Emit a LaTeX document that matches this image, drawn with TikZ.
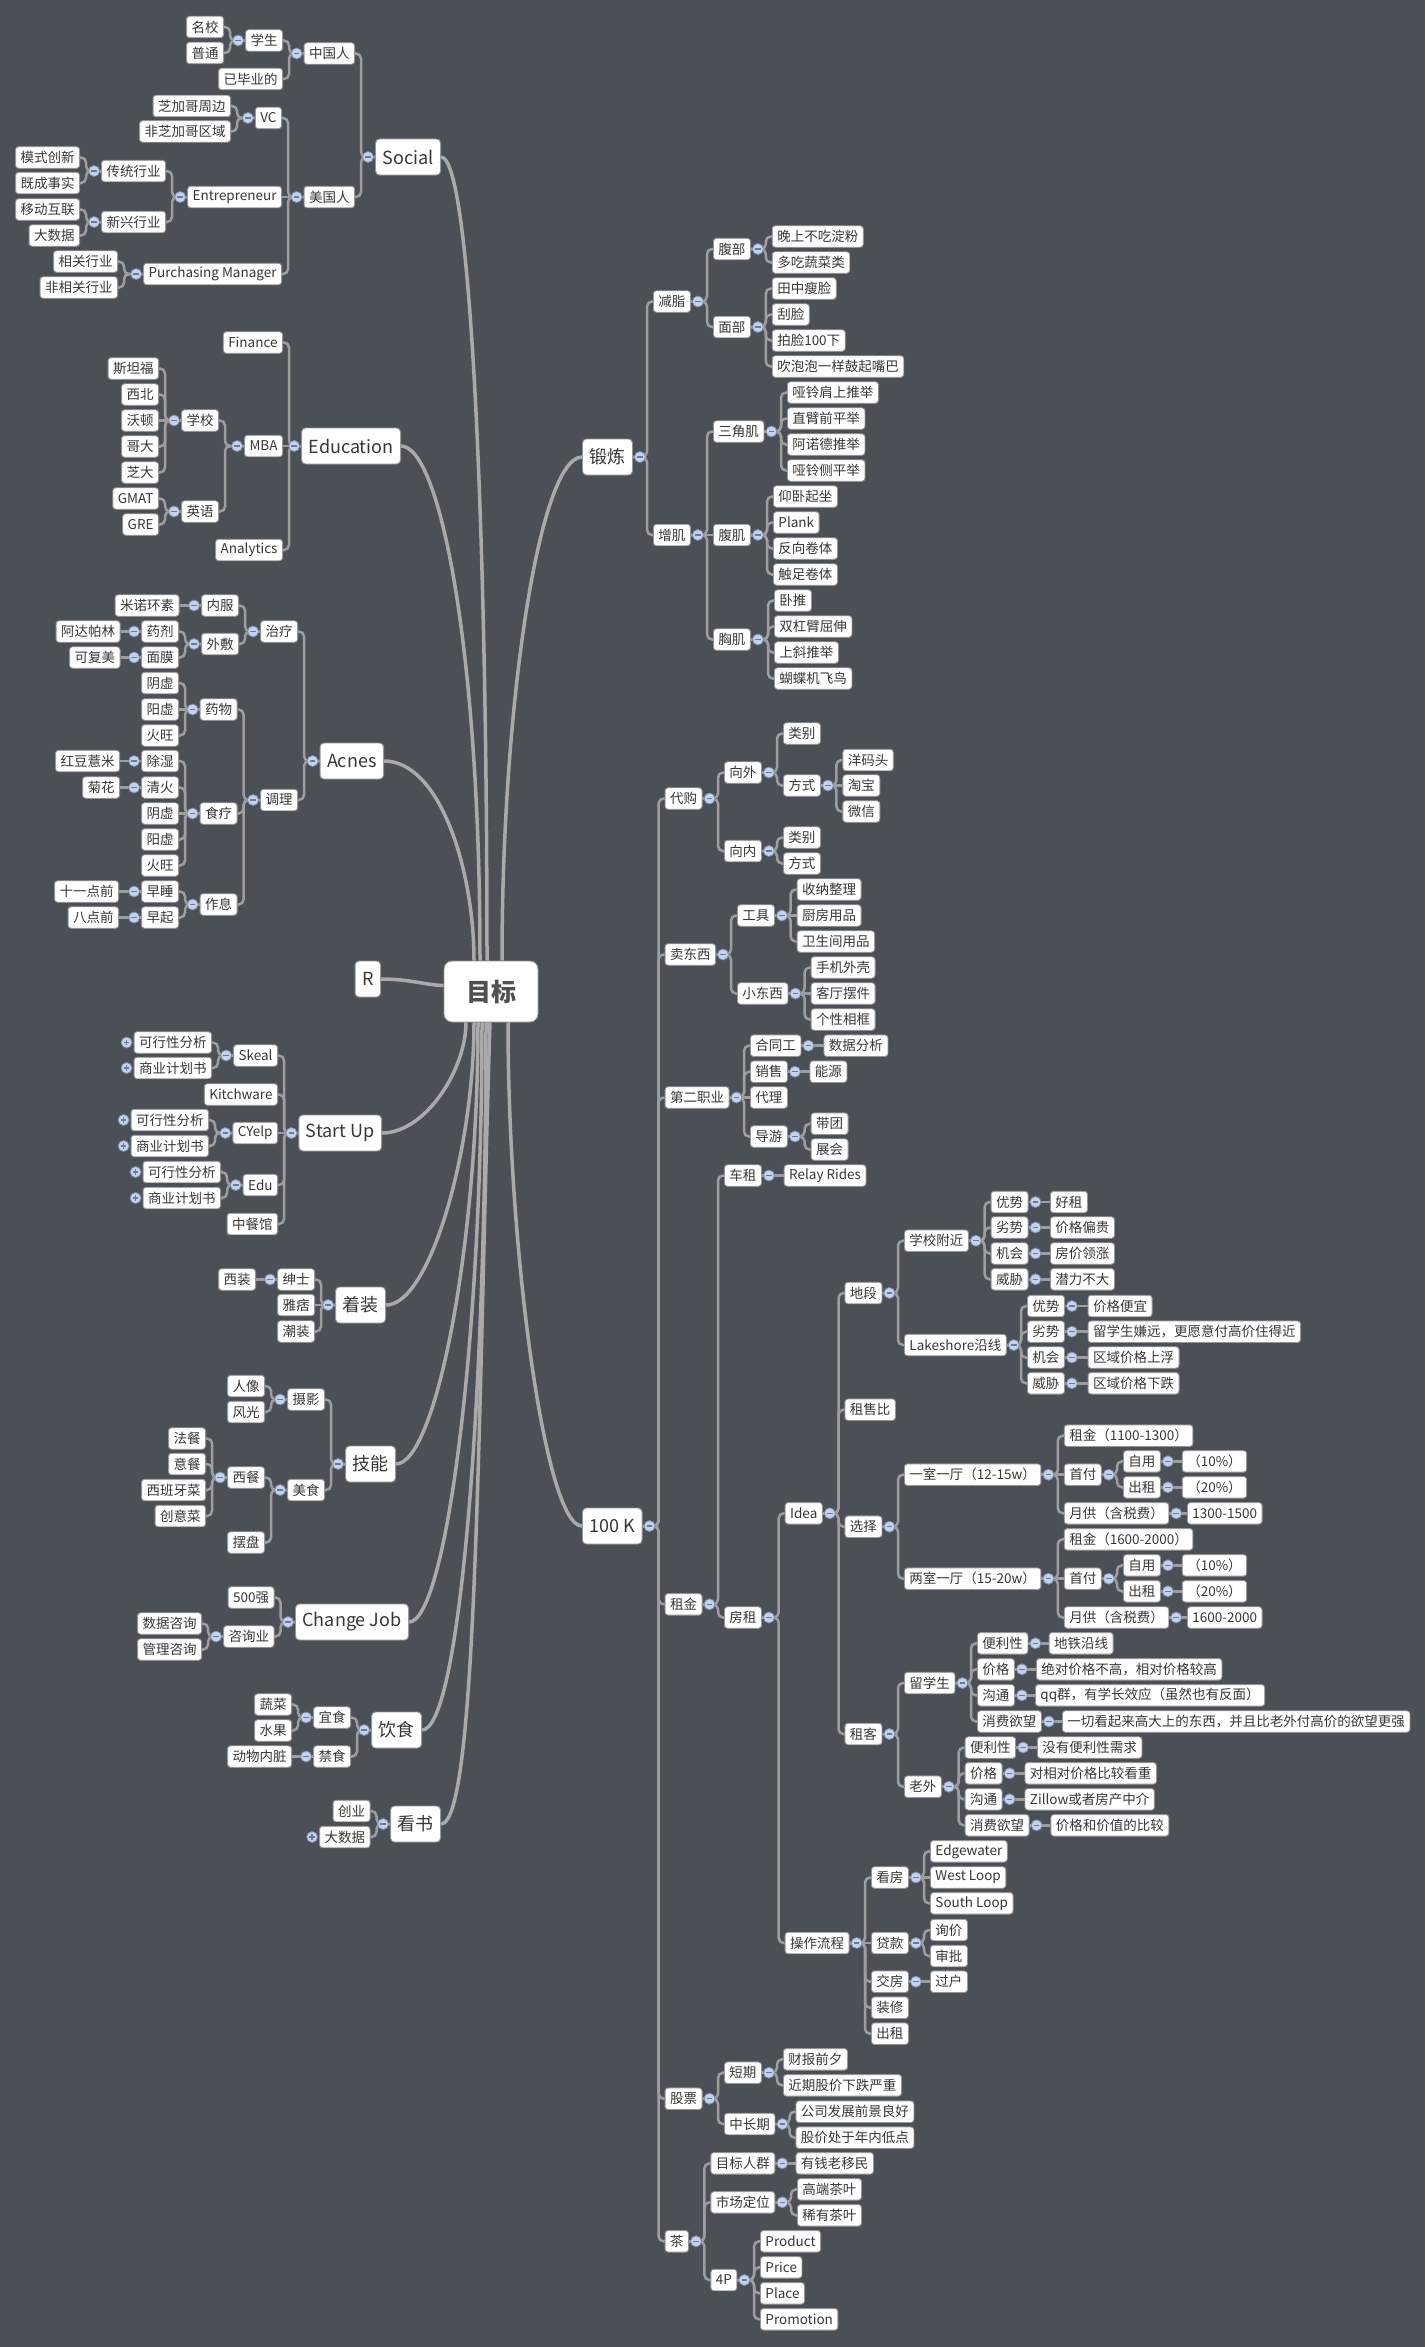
\documentclass[tikz,border=0pt]{standalone}
\usepackage{fontspec}
\setmainfont{Noto Sans CJK SC}
\usetikzlibrary{calc}
\definecolor{bgc}{RGB}{75,80,87}
\definecolor{boxc}{RGB}{150,150,150}
\definecolor{txtc}{RGB}{55,55,55}
\definecolor{rootc}{RGB}{80,80,80}
\definecolor{linkc}{RGB}{158,158,158}
\definecolor{mlinkc}{RGB}{170,170,170}
\definecolor{junf}{RGB}{196,210,238}
\definecolor{jund}{RGB}{125,140,170}
\definecolor{junm}{RGB}{105,120,155}
\pgfdeclarelayer{back}\pgfdeclarelayer{lines}\pgfsetlayers{back,lines,main}
\tikzset{
 leaf/.style={draw=boxc, fill=white, rounded corners=3pt, line width=0.9pt, font=\fontsize{13.5}{15}\selectfont, text=txtc, minimum height=21.5pt, inner xsep=5pt, inner ysep=0pt},
 lvone/.style={leaf, rounded corners=4pt, font=\fontsize{18}{20}\selectfont, minimum height=36pt, inner xsep=7pt},
 rootn/.style={draw=boxc, fill=white, rounded corners=8pt, line width=0.9pt, font=\fontsize{25}{27}\selectfont\bfseries, text=rootc, minimum width=94pt, minimum height=61pt},
 lft/.style={anchor=east}, rgt/.style={anchor=west},
 link/.style={draw=linkc, line width=2.5pt, rounded corners=5pt},
 mlink/.style={draw=mlinkc, line width=3.5pt},
 jun/.style={circle, draw=jund, fill=junf, line width=0.8pt, minimum size=11pt, inner sep=0pt, path picture={\draw[junm, line width=1.3pt] ([xshift=-2.8pt]path picture bounding box.center) -- ([xshift=2.8pt]path picture bounding box.center);}},
 jplus/.style={circle, draw=jund, fill=junf, line width=0.8pt, minimum size=11pt, inner sep=0pt, path picture={\draw[junm, line width=1.3pt] ([xshift=-2.8pt]path picture bounding box.center) -- ([xshift=2.8pt]path picture bounding box.center) ([yshift=-2.8pt]path picture bounding box.center) -- ([yshift=2.8pt]path picture bounding box.center);}}
}
\newcommand\linkL[2]{\draw[link] (#1.west) -| ([xshift=6pt]#2.east) -- (#2.east);}
\newcommand\linkLs[2]{\draw[link] (#1.west) -- (#2.east);}
\newcommand\linkR[2]{\draw[link] (#1.east) -| ([xshift=-6pt]#2.west) -- (#2.west);}
\newcommand\linkRs[2]{\draw[link] (#1.east) -- (#2.west);}
\begin{document}
\begin{tikzpicture}[x=1pt,y=-1pt]
\begin{pgfonlayer}{back}
\fill[bgc] (0,0) rectangle (1425,2347);
\end{pgfonlayer}
\useasboundingbox (0,0) rectangle (1425,2347);

\node[rootn] (root) at (491,991.5) {目标};

% ---------- Social
\node[lvone,lft] (social) at (441,157) {Social};
\node[leaf,lft] (zgr) at (355,53.5) {中国人};
\node[leaf,lft] (mgr) at (355,197) {美国人};
\node[leaf,lft] (xs) at (283,40.5) {学生};
\node[leaf,lft] (ybyd) at (283,79) {已毕业的};
\node[leaf,lft] (mx) at (224,27) {名校};
\node[leaf,lft] (pt) at (224,53) {普通};
\node[leaf,lft] (vc) at (282,118) {VC};
\node[leaf,lft] (ent) at (282,197) {Entrepreneur};
\node[leaf,lft] (pm) at (282,274) {Purchasing Manager};
\node[leaf,lft] (zjg) at (231,106) {芝加哥周边};
\node[leaf,lft] (fzjg) at (231,131.5) {非芝加哥区域};
\node[leaf,lft] (ctxy) at (166,171) {传统行业};
\node[leaf,lft] (xxxy) at (166,222) {新兴行业};
\node[leaf,lft] (mscx) at (80,157.5) {模式创新};
\node[leaf,lft] (jcss) at (80,183) {既成事实};
\node[leaf,lft] (ydhl) at (80,209.5) {移动互联};
\node[leaf,lft] (dsj) at (80,235.5) {大数据};
\node[leaf,lft] (xgxy) at (118,261.5) {相关行业};
\node[leaf,lft] (fxgxy) at (118,287.5) {非相关行业};

% ---------- Education
\node[lvone,lft] (edu) at (401,446) {Education};
\node[leaf,lft] (fin) at (283,342.5) {Finance};
\node[leaf,lft] (mba) at (283,446) {MBA};
\node[leaf,lft] (ana) at (283,550) {Analytics};
\node[leaf,lft] (xx) at (219,420.5) {学校};
\node[leaf,lft] (yy) at (219,511.5) {英语};
\node[leaf,lft] (stf) at (159,368.5) {斯坦福};
\node[leaf,lft] (xb) at (159,394.5) {西北};
\node[leaf,lft] (wd) at (159,420.5) {沃顿};
\node[leaf,lft] (gd) at (159,446.5) {哥大};
\node[leaf,lft] (zd) at (159,472.5) {芝大};
\node[leaf,lft] (gmat) at (159,498.5) {GMAT};
\node[leaf,lft] (gre) at (159,524.5) {GRE};

% ---------- Acnes
\node[lvone,lft] (acnes) at (384,761) {Acnes};
\node[leaf,lft] (zl) at (298,631.5) {治疗};
\node[leaf,lft] (tl) at (298,800) {调理};
\node[leaf,lft] (nf) at (239,605.5) {内服};
\node[leaf,lft] (wf) at (239,644) {外敷};
\node[leaf,lft] (mnhs) at (179.5,605.5) {米诺环素};
\node[leaf,lft] (yj) at (179,631.5) {药剂};
\node[leaf,lft] (mm) at (179,657.5) {面膜};
\node[leaf,lft] (adpl) at (120.5,631.5) {阿达帕林};
\node[leaf,lft] (kfm) at (120.5,657.5) {可复美};
\node[leaf,lft] (yw) at (237.5,709.5) {药物};
\node[leaf,lft] (yx1) at (179,683) {阴虚};
\node[leaf,lft] (yangx1) at (179,709.5) {阳虚};
\node[leaf,lft] (hw1) at (179,735.5) {火旺};
\node[leaf,lft] (sl) at (237.5,813.5) {食疗};
\node[leaf,lft] (cs) at (179,761) {除湿};
\node[leaf,lft] (qh) at (179,787.5) {清火};
\node[leaf,lft] (yx2) at (179,813.5) {阴虚};
\node[leaf,lft] (yangx2) at (179,839.5) {阳虚};
\node[leaf,lft] (hw2) at (179,865.5) {火旺};
\node[leaf,lft] (hdym) at (120,761) {红豆薏米};
\node[leaf,lft] (jh) at (120,787.5) {菊花};
\node[leaf,lft] (zx) at (237.5,904.5) {作息};
\node[leaf,lft] (zs) at (179,891.5) {早睡};
\node[leaf,lft] (zq) at (179,917.5) {早起};
\node[leaf,lft] (syd) at (119,891.5) {十一点前};
\node[leaf,lft] (bdq) at (119,917.5) {八点前};

% ---------- R
\node[lvone,lft] (rn) at (381,979) {R};

% ---------- Start Up
\node[lvone,lft] (startup) at (382,1133) {Start Up};
\node[leaf,lft] (skeal) at (278,1055.5) {Skeal};
\node[leaf,lft] (kit) at (278,1094.5) {Kitchware};
\node[leaf,lft] (cyelp) at (278,1133) {CYelp};
\node[leaf,lft] (edux) at (278,1185) {Edu};
\node[leaf,lft] (zcg) at (278,1224) {中餐馆};
\node[leaf,lft] (kx1) at (212,1042.5) {可行性分析};
\node[leaf,lft] (sy1) at (212,1068) {商业计划书};
\node[leaf,lft] (kx2) at (209,1120) {可行性分析};
\node[leaf,lft] (sy2) at (209,1146) {商业计划书};
\node[leaf,lft] (kx3) at (221,1172) {可行性分析};
\node[leaf,lft] (sy3) at (221,1198) {商业计划书};

% ---------- 着装
\node[lvone,lft] (zhuang) at (386,1305) {着装};
\node[leaf,lft] (ss) at (315,1279.5) {绅士};
\node[leaf,lft] (yp) at (315,1305) {雅痞};
\node[leaf,lft] (cz) at (315,1331.5) {潮装};
\node[leaf,lft] (xz) at (256,1279.5) {西装};

% ---------- 技能
\node[lvone,lft] (jineng) at (396,1464) {技能};
\node[leaf,lft] (sy) at (325,1399.5) {摄影};
\node[leaf,lft] (ms) at (325,1490) {美食};
\node[leaf,lft] (rx) at (265,1386) {人像};
\node[leaf,lft] (fg) at (265,1412) {风光};
\node[leaf,lft] (xc) at (265,1477.5) {西餐};
\node[leaf,lft] (bp) at (265,1542.5) {摆盘};
\node[leaf,lft] (fc) at (206,1438.5) {法餐};
\node[leaf,lft] (yc) at (206,1464) {意餐};
\node[leaf,lft] (xbyc) at (206,1490) {西班牙菜};
\node[leaf,lft] (cyc) at (206,1516) {创意菜};

% ---------- Change Job
\node[lvone,lft] (cjob) at (409,1622) {Change Job};
\node[leaf,lft] (wbq) at (274.5,1597.5) {500强};
\node[leaf,lft] (zxy) at (274.5,1636.5) {咨询业};
\node[leaf,lft] (sjzx) at (202,1623.5) {数据咨询};
\node[leaf,lft] (glzx) at (202,1649.5) {管理咨询};

% ---------- 饮食
\node[lvone,lft] (yinshi) at (422,1730) {饮食};
\node[leaf,lft] (ys) at (351,1717.5) {宜食};
\node[leaf,lft] (js) at (351,1756.5) {禁食};
\node[leaf,lft] (sc) at (292,1704.5) {蔬菜};
\node[leaf,lft] (sg) at (292,1730.5) {水果};
\node[leaf,lft] (dwnz) at (292,1756.5) {动物内脏};

% ---------- 看书
\node[lvone,lft] (kanshu) at (441,1824) {看书};
\node[leaf,lft] (cy) at (370.5,1811) {创业};
\node[leaf,lft] (dsj2) at (370.5,1837) {大数据};

% ---------- 锻炼
\node[lvone,rgt] (dl) at (582,457) {锻炼};
\node[leaf,rgt] (jz) at (653,301.5) {减脂};
\node[leaf,rgt] (zj) at (653,535) {增肌};
\node[leaf,rgt] (fb) at (713,249) {腹部};
\node[leaf,rgt] (mb) at (713,327) {面部};
\node[leaf,rgt] (wsbcdf) at (771.8,236.5) {晚上不吃淀粉};
\node[leaf,rgt] (dcscl) at (771.8,262.5) {多吃蔬菜类};
\node[leaf,rgt] (tzsl) at (771.8,288.5) {田中瘦脸};
\node[leaf,rgt] (gl) at (771.8,314.5) {刮脸};
\node[leaf,rgt] (pl) at (771.8,340.5) {拍脸100下};
\node[leaf,rgt] (cpp) at (771.8,366.5) {吹泡泡一样鼓起嘴巴};
\node[leaf,rgt] (sjj) at (713,431.5) {三角肌};
\node[leaf,rgt] (fj) at (713,535) {腹肌};
\node[leaf,rgt] (xj) at (713,639.5) {胸肌};
\node[leaf,rgt] (ylsstj) at (787,392.5) {哑铃肩上推举};
\node[leaf,rgt] (zbqpj) at (787,418.5) {直臂前平举};
\node[leaf,rgt] (andtj) at (787,444.5) {阿诺德推举};
\node[leaf,rgt] (ylcpj) at (787,470.5) {哑铃侧平举};
\node[leaf,rgt] (ywqz) at (773,496.5) {仰卧起坐};
\node[leaf,rgt] (plank) at (773,522.5) {Plank};
\node[leaf,rgt] (fxjt) at (773,548.5) {反向卷体};
\node[leaf,rgt] (czjt) at (773,574.5) {触足卷体};
\node[leaf,rgt] (wt) at (774,600.5) {卧推};
\node[leaf,rgt] (dgbqs) at (774,626.5) {双杠臂屈伸};
\node[leaf,rgt] (xxtj) at (774,652.5) {上斜推举};
\node[leaf,rgt] (hdjfn) at (774,678.5) {蝴蝶机飞鸟};

% ---------- 100 K
\node[lvone,rgt] (hk) at (582,1526) {100 K};
\node[leaf,rgt] (dg) at (664.6,798.5) {代购};
\node[leaf,rgt] (mdx) at (664.6,954.5) {卖东西};
\node[leaf,rgt] (dezy) at (664.6,1097.5) {第二职业};
\node[leaf,rgt] (zjin) at (664.6,1604.3) {租金};
\node[leaf,rgt] (gp) at (664.6,2098.7) {股票};
\node[leaf,rgt] (cha) at (664.6,2241.3) {茶};
\node[leaf,rgt] (xw) at (724,772.5) {向外};
\node[leaf,rgt] (xn) at (724,851) {向内};
\node[leaf,rgt] (lb1) at (783,733.5) {类别};
\node[leaf,rgt] (fs1) at (783,785.5) {方式};
\node[leaf,rgt] (ymt) at (842.4,760) {洋码头};
\node[leaf,rgt] (tb) at (842.4,785.5) {淘宝};
\node[leaf,rgt] (wx) at (842.4,811.5) {微信};
\node[leaf,rgt] (lb2) at (783,837.5) {类别};
\node[leaf,rgt] (fs2) at (783,863.5) {方式};
\node[leaf,rgt] (gj) at (737,915.5) {工具};
\node[leaf,rgt] (xdx) at (737,993.5) {小东西};
\node[leaf,rgt] (snzl) at (796.6,889.5) {收纳整理};
\node[leaf,rgt] (cfyp) at (796.6,915.5) {厨房用品};
\node[leaf,rgt] (wsjyp) at (796.6,941.5) {卫生间用品};
\node[leaf,rgt] (sjwk) at (810.6,967.5) {手机外壳};
\node[leaf,rgt] (ktbj) at (810.6,993.5) {客厅摆件};
\node[leaf,rgt] (gxxk) at (810.6,1019.5) {个性相框};
\node[leaf,rgt] (htg) at (750,1045.7) {合同工};
\node[leaf,rgt] (xsh) at (750,1071.7) {销售};
\node[leaf,rgt] (dl2) at (750,1097.5) {代理};
\node[leaf,rgt] (dy) at (750,1136.5) {导游};
\node[leaf,rgt] (sjfx) at (823.5,1045.7) {数据分析};
\node[leaf,rgt] (ny) at (809.5,1071.7) {能源};
\node[leaf,rgt] (dt) at (810.6,1123.7) {带团};
\node[leaf,rgt] (zh) at (810.6,1149.5) {展会};
\node[leaf,rgt] (cz2) at (724,1175.5) {车租};
\node[leaf,rgt] (relay) at (783.7,1175.5) {Relay Rides};
\node[leaf,rgt] (fz) at (724,1617.5) {房租};
\node[leaf,rgt] (idea) at (784.7,1513.3) {Idea};
\node[leaf,rgt] (czlc) at (784.7,1943) {操作流程};
\node[leaf,rgt] (dd) at (844.5,1293) {地段};
\node[leaf,rgt] (zsb) at (844.5,1409.7) {租售比};
\node[leaf,rgt] (xze) at (844.5,1526.7) {选择};
\node[leaf,rgt] (zk) at (844.5,1734) {租客};
\node[leaf,rgt] (xxfj) at (904,1240.7) {学校附近};
\node[leaf,rgt] (lks) at (904,1345) {Lakeshore沿线};
\node[leaf,rgt] (ys1) at (990.6,1202) {优势};
\node[leaf,rgt] (ls1) at (990.6,1227.5) {劣势};
\node[leaf,rgt] (jh1) at (990.6,1253.5) {机会};
\node[leaf,rgt] (wx1) at (990.6,1279.3) {威胁};
\node[leaf,rgt] (hz) at (1050,1202) {好租};
\node[leaf,rgt] (jgpg) at (1050,1227.5) {价格偏贵};
\node[leaf,rgt] (fjlz) at (1050,1253.5) {房价领涨};
\node[leaf,rgt] (qlbd) at (1050,1279.3) {潜力不大};
\node[leaf,rgt] (ys2) at (1027,1306) {优势};
\node[leaf,rgt] (ls2) at (1027,1331.7) {劣势};
\node[leaf,rgt] (jh2) at (1027,1357.5) {机会};
\node[leaf,rgt] (wx2) at (1027,1383.3) {威胁};
\node[leaf,rgt] (jgpy) at (1087.6,1306) {价格便宜};
\node[leaf,rgt] (lxsxy) at (1087.6,1331.7) {留学生嫌远，更愿意付高价住得近};
\node[leaf,rgt] (qyjgsf) at (1087.6,1357.5) {区域价格上浮};
\node[leaf,rgt] (qyjgxd) at (1087.6,1383.3) {区域价格下跌};
\node[leaf,rgt] (ysyt) at (904,1474.7) {一室一厅（12-15w）};
\node[leaf,rgt] (zj1) at (1063.8,1435.7) {租金（1100-1300）};
\node[leaf,rgt] (sf1) at (1063.8,1474.7) {首付};
\node[leaf,rgt] (yg1) at (1063.8,1513.3) {月供（含税费）};
\node[leaf,rgt] (zy1) at (1123,1461.3) {自用};
\node[leaf,rgt] (czu1) at (1123,1487.3) {出租};
\node[leaf,rgt] (pa1) at (1181.8,1461.3) {（10\%）};
\node[leaf,rgt] (pb1) at (1181.8,1487.3) {（20\%）};
\node[leaf,rgt] (v1) at (1187,1513.3) {1300-1500};
\node[leaf,rgt] (lsyt) at (904,1578.7) {两室一厅（15-20w）};
\node[leaf,rgt] (zj2) at (1063.8,1539.3) {租金（1600-2000）};
\node[leaf,rgt] (sf2) at (1063.8,1578.7) {首付};
\node[leaf,rgt] (yg2) at (1063.8,1617.5) {月供（含税费）};
\node[leaf,rgt] (zy2) at (1123,1565.3) {自用};
\node[leaf,rgt] (czu2) at (1123,1591.3) {出租};
\node[leaf,rgt] (pa2) at (1181.8,1565.3) {（10\%）};
\node[leaf,rgt] (pb2) at (1181.8,1591.3) {（20\%）};
\node[leaf,rgt] (v2) at (1187,1617.5) {1600-2000};
\node[leaf,rgt] (lxs) at (904,1683) {留学生};
\node[leaf,rgt] (lw) at (904,1786.7) {老外};
\node[leaf,rgt] (blx1) at (977,1643.3) {便利性};
\node[leaf,rgt] (jg1) at (977,1669.3) {价格};
\node[leaf,rgt] (gt1) at (977,1695.3) {沟通};
\node[leaf,rgt] (xfyw1) at (977,1721.5) {消费欲望};
\node[leaf,rgt] (dtyx) at (1048.7,1643.3) {地铁沿线};
\node[leaf,rgt] (jdjg) at (1036,1669.3) {绝对价格不高，相对价格较高};
\node[leaf,rgt] (qqq) at (1035,1695.3) {qq群，有学长效应（虽然也有反面）};
\node[leaf,rgt] (yqkq) at (1062,1721.5) {一切看起来高大上的东西，并且比老外付高价的欲望更强};
\node[leaf,rgt] (blx2) at (964.7,1747.5) {便利性};
\node[leaf,rgt] (jg2) at (964.7,1773.3) {价格};
\node[leaf,rgt] (gt2) at (964.7,1799.3) {沟通};
\node[leaf,rgt] (xfyw2) at (964.7,1825.3) {消费欲望};
\node[leaf,rgt] (mybl) at (1037,1747.5) {没有便利性需求};
\node[leaf,rgt] (dxdjg) at (1024.5,1773.3) {对相对价格比较看重};
\node[leaf,rgt] (zillow) at (1024.5,1799.3) {Zillow或者房产中介};
\node[leaf,rgt] (jghjz) at (1050.4,1825.3) {价格和价值的比较};
\node[leaf,rgt] (kf) at (871,1877.5) {看房};
\node[leaf,rgt] (dk) at (871,1943) {贷款};
\node[leaf,rgt] (jf) at (871,1981.7) {交房};
\node[leaf,rgt] (zxiu) at (871,2007.7) {装修};
\node[leaf,rgt] (czu3) at (871,2033.7) {出租};
\node[leaf,rgt] (edgew) at (930,1851.3) {Edgewater};
\node[leaf,rgt] (wloop) at (930,1877.5) {West Loop};
\node[leaf,rgt] (sloop) at (930,1903.3) {South Loop};
\node[leaf,rgt] (xjia) at (930,1930) {询价};
\node[leaf,rgt] (sp) at (930,1956) {审批};
\node[leaf,rgt] (gh) at (930,1981.7) {过户};
\node[leaf,rgt] (dq) at (724,2072.7) {短期};
\node[leaf,rgt] (zcq) at (724,2124) {中长期};
\node[leaf,rgt] (cbqx) at (783,2059.3) {财报前夕};
\node[leaf,rgt] (jqgj) at (783,2085.3) {近期股价下跌严重};
\node[leaf,rgt] (gsfz) at (795.5,2111.7) {公司发展前景良好};
\node[leaf,rgt] (gjcy) at (795.5,2137.7) {股价处于年内低点};
\node[leaf,rgt] (mbrq) at (710.4,2163.3) {目标人群};
\node[leaf,rgt] (scdw) at (710.4,2202.3) {市场定位};
\node[leaf,rgt] (fourp) at (710.4,2280) {4P};
\node[leaf,rgt] (yqlym) at (795.5,2163.3) {有钱老移民};
\node[leaf,rgt] (gdcy) at (797,2189.3) {高端茶叶};
\node[leaf,rgt] (xycy) at (797,2215.3) {稀有茶叶};
\node[leaf,rgt] (prod) at (760,2241.3) {Product};
\node[leaf,rgt] (price) at (760,2267.3) {Price};
\node[leaf,rgt] (place) at (760,2293.3) {Place};
\node[leaf,rgt] (promo) at (760,2319.3) {Promotion};

\begin{pgfonlayer}{lines}
% main branches
\draw[mlink] (social.east) .. controls (472,157) and (487,550) .. ([xshift=-4pt]root.north);
\draw[mlink] (edu.east) .. controls (440,446) and (480,650) .. ([xshift=-11pt]root.north);
\draw[mlink] (acnes.east) .. controls (440,761) and (474,870) .. ([xshift=-17pt]root.north);
\draw[mlink] (dl.west) .. controls (540,457) and (502,700) .. ([xshift=11pt]root.north);
\draw[mlink] (rn.east) .. controls (410,979) and (425,985) .. ([yshift=6pt]root.west);
\draw[mlink] (startup.east) .. controls (425,1133) and (466,1070) .. ([xshift=-25pt]root.south);
\draw[mlink] (zhuang.east) .. controls (430,1305) and (474,1150) .. ([xshift=-17pt]root.south);
\draw[mlink] (jineng.east) .. controls (435,1464) and (478,1250) .. ([xshift=-13pt]root.south);
\draw[mlink] (cjob.east) .. controls (445,1622) and (482,1350) .. ([xshift=-9pt]root.south);
\draw[mlink] (yinshi.east) .. controls (460,1730) and (486,1400) .. ([xshift=-5pt]root.south);
\draw[mlink] (kanshu.east) .. controls (478,1824) and (478,1400) .. ([xshift=-1pt]root.south);
\draw[mlink] (hk.west) .. controls (545,1526) and (508,1250) .. ([xshift=17pt]root.south);
% left links
\foreach \a/\b in {social/zgr, social/mgr, zgr/xs, zgr/ybyd, xs/mx, xs/pt, mgr/vc, mgr/pm, vc/zjg, vc/fzjg, ent/ctxy, ent/xxxy, ctxy/mscx, ctxy/jcss, xxxy/ydhl, xxxy/dsj, pm/xgxy, pm/fxgxy,
 edu/fin, edu/ana, mba/xx, mba/yy, xx/stf, xx/xb, xx/gd, xx/zd, yy/gmat, yy/gre,
 acnes/zl, acnes/tl, zl/nf, zl/wf, wf/yj, wf/mm, tl/yw, tl/sl, tl/zx, yw/yx1, yw/hw1, sl/cs, sl/qh, sl/yangx2, sl/hw2, zx/zs, zx/zq,
 startup/skeal, startup/kit, startup/edux, startup/zcg, skeal/kx1, skeal/sy1, cyelp/kx2, cyelp/sy2, edux/kx3, edux/sy3,
 zhuang/ss, zhuang/cz, jineng/sy, jineng/ms, sy/rx, sy/fg, ms/xc, ms/bp, xc/fc, xc/yc, xc/xbyc, xc/cyc,
 cjob/wbq, cjob/zxy, zxy/sjzx, zxy/glzx, yinshi/ys, yinshi/js, ys/sc, ys/sg, kanshu/cy, kanshu/dsj2}
 {\linkL{\a}{\b}}
\foreach \a/\b in {mgr/ent, edu/mba, xx/wd, nf/mnhs, yj/adpl, mm/kfm, yw/yangx1, sl/yx2, cs/hdym, qh/jh, zs/syd, zq/bdq, startup/cyelp, zhuang/yp, ss/xz, js/dwnz}
 {\linkLs{\a}{\b}}
% right links
\foreach \a/\b in {dl/jz, dl/zj, jz/fb, jz/mb, fb/wsbcdf, fb/dcscl, mb/tzsl, mb/gl, mb/pl, mb/cpp, zj/sjj, zj/xj, sjj/ylsstj, sjj/zbqpj, sjj/andtj, sjj/ylcpj, fj/ywqz, fj/plank, fj/fxjt, fj/czjt, xj/wt, xj/dgbqs, xj/xxtj, xj/hdjfn,
 hk/dg, hk/mdx, hk/dezy, hk/zjin, hk/gp, hk/cha,
 dg/xw, dg/xn, xw/lb1, xw/fs1, fs1/ymt, fs1/wx, xn/lb2, xn/fs2,
 mdx/gj, mdx/xdx, gj/snzl, gj/wsjyp, xdx/sjwk, xdx/gxxk,
 dezy/htg, dezy/xsh, dezy/dy, dy/dt, dy/zh,
 zjin/cz2, zjin/fz, fz/idea, fz/czlc,
 idea/dd, idea/zsb, idea/xze, idea/zk,
 dd/xxfj, dd/lks, xxfj/ys1, xxfj/ls1, xxfj/jh1, xxfj/wx1, lks/ys2, lks/ls2, lks/jh2, lks/wx2,
 xze/ysyt, xze/lsyt, ysyt/zj1, ysyt/yg1, sf1/zy1, sf1/czu1, lsyt/zj2, lsyt/yg2, sf2/zy2, sf2/czu2,
 zk/lxs, zk/lw, lxs/blx1, lxs/jg1, lxs/gt1, lxs/xfyw1, lw/blx2, lw/jg2, lw/gt2, lw/xfyw2,
 czlc/kf, czlc/jf, czlc/zxiu, czlc/czu3, kf/edgew, kf/sloop, dk/xjia, dk/sp,
 gp/dq, gp/zcq, dq/cbqx, dq/jqgj, zcq/gsfz, zcq/gjcy,
 cha/mbrq, cha/scdw, cha/fourp, scdw/gdcy, scdw/xycy, fourp/prod, fourp/price, fourp/place, fourp/promo}
 {\linkR{\a}{\b}}
\foreach \a/\b in {zj/fj, fs1/tb, gj/cfyp, xdx/ktbj, dezy/dl2, htg/sjfx, xsh/ny, cz2/relay, ys1/hz, ls1/jgpg, jh1/fjlz, wx1/qlbd, ys2/jgpy, ls2/lxsxy, jh2/qyjgsf, wx2/qyjgxd, ysyt/sf1, zy1/pa1, czu1/pb1, yg1/v1, lsyt/sf2, zy2/pa2, czu2/pb2, yg2/v2, blx1/dtyx, jg1/jdjg, gt1/qqq, xfyw1/yqkq, blx2/mybl, jg2/dxdjg, gt2/zillow, xfyw2/jghjz, czlc/dk, kf/wloop, jf/gh, mbrq/yqlym}
 {\linkRs{\a}{\b}}
\end{pgfonlayer}

% junction circles
\foreach \n in {social, zgr, xs, mgr, vc, ent, ctxy, xxxy, pm, edu, mba, xx, yy, acnes, zl, nf, wf, yj, mm, tl, yw, sl, cs, qh, zx, zs, zq, startup, skeal, cyelp, edux, zhuang, ss, jineng, sy, ms, xc, cjob, zxy, yinshi, ys, js, kanshu}
 {\node[jun] (j\n) at ([xshift=-7pt]\n.west) {};}
\foreach \n in {dl, jz, zj, fb, mb, sjj, fj, xj, hk, dg, xw, xn, fs1, mdx, gj, xdx, dezy, htg, xsh, dy, zjin, cz2, fz, idea, dd, xxfj, lks, ys1, ls1, jh1, wx1, ys2, ls2, jh2, wx2, xze, ysyt, sf1, zy1, czu1, yg1, lsyt, sf2, zy2, czu2, yg2, zk, lxs, lw, blx1, jg1, gt1, xfyw1, blx2, jg2, gt2, xfyw2, czlc, kf, dk, jf, gp, dq, zcq, cha, mbrq, scdw, fourp}
 {\node[jun] (j\n) at ([xshift=7pt]\n.east) {};}
\foreach \n in {kx1, sy1, kx2, sy2, kx3, sy3, dsj2}
 {\node[jplus] (p\n) at ([xshift=-7pt]\n.west) {};}
\end{tikzpicture}
\end{document}
